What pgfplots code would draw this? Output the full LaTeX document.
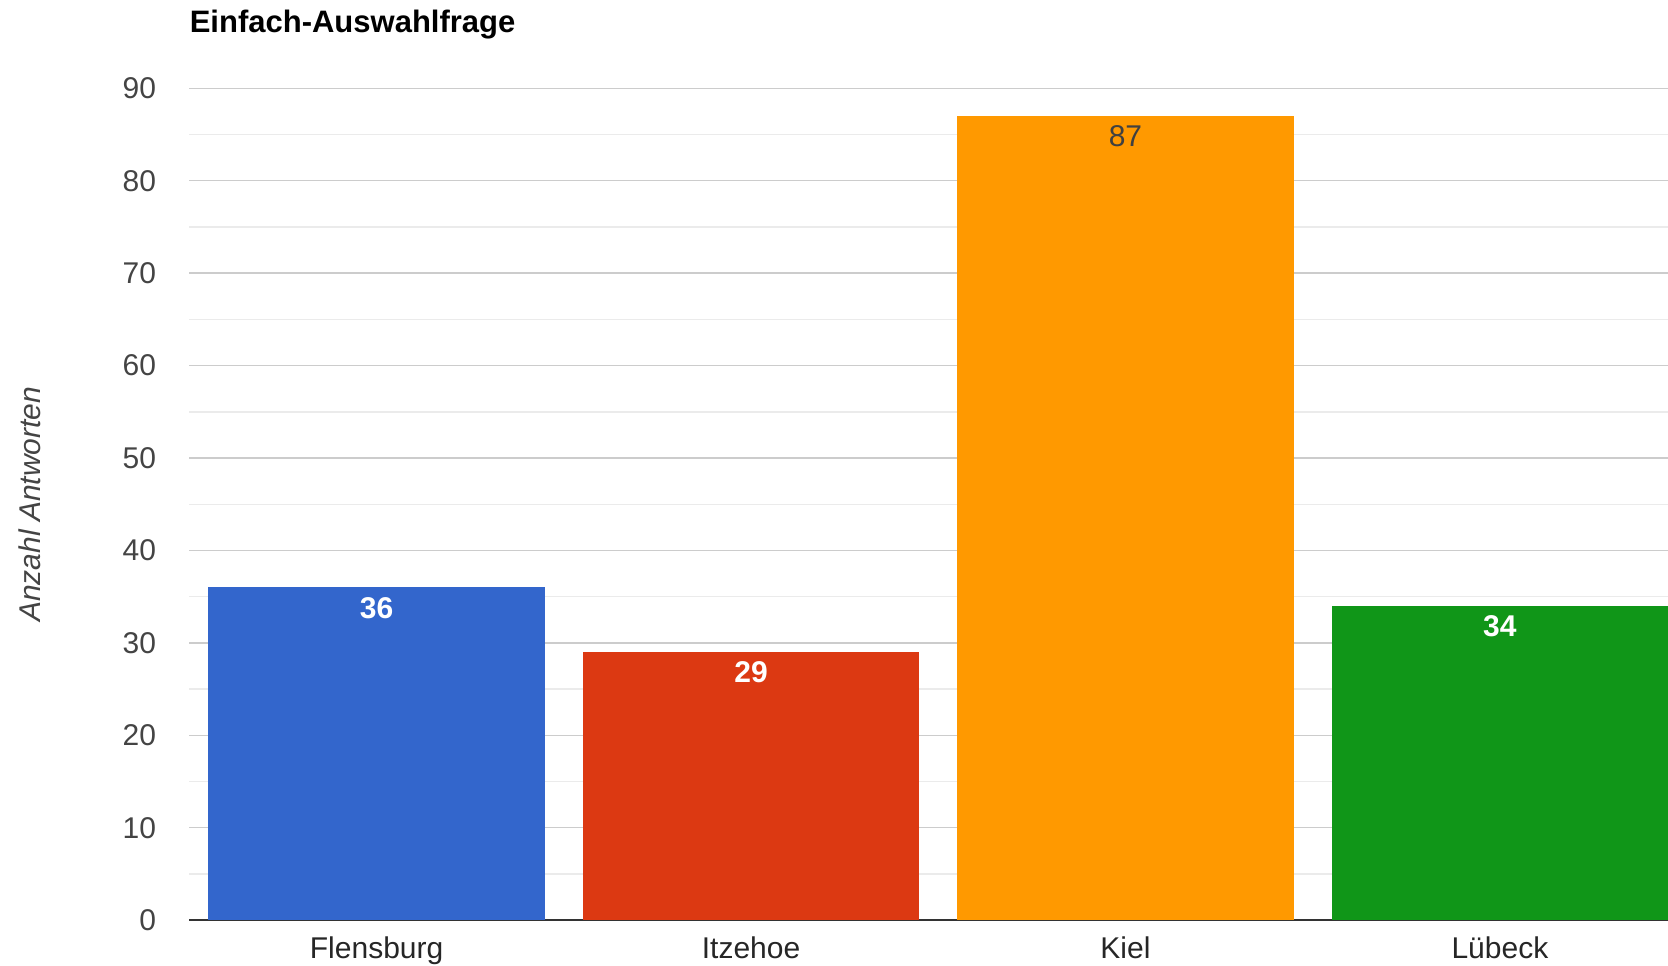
\documentclass[border=0pt]{standalone}
\usepackage{fontspec}
\setmainfont{Liberation Sans}
\usepackage{pgfplots}
\pgfplotsset{compat=1.18}
\definecolor{cblue}{HTML}{3366CC}
\definecolor{cred}{HTML}{DC3912}
\definecolor{corange}{HTML}{FF9900}
\definecolor{cgreen}{HTML}{109618}
\definecolor{majgrid}{HTML}{CCCCCC}
\definecolor{mingrid}{HTML}{EBEBEB}
\definecolor{axisc}{HTML}{333333}
\definecolor{tickc}{HTML}{444444}
\definecolor{darklab}{HTML}{404040}
\begin{document}
\begin{tikzpicture}
\begin{axis}[
  at={(0,0)}, anchor=south west,
  scale only axis, width=739.3pt, height=415.95pt,
  xmin=-0.5, xmax=3.449, ymin=0, ymax=90,
  ybar, bar width=0.898, bar shift=0pt,
  ytick={0,10,...,90}, minor ytick={5,15,...,85},
  ymajorgrids, yminorgrids,
  major grid style={draw=majgrid, line width=0.7pt},
  minor grid style={draw=mingrid, line width=0.7pt},
  axis lines*=left,
  y axis line style={draw=none},
  x axis line style={draw=axisc, line width=1pt},
  tick style={draw=none},
  xtick={0,1,2,3}, xticklabels={Flensburg, Itzehoe, Kiel, L\"ubeck},
  /pgf/number format/assume math mode=true,
  ticklabel style={font=\fontsize{15}{18}\selectfont},
  yticklabel style={anchor=east, inner sep=0pt, xshift=-16.5pt, text=tickc},
  xticklabel style={anchor=base, inner sep=0pt, yshift=-15pt, text=black!85},
  ylabel={\itshape Anzahl Antworten},
  ylabel style={at={(axis description cs:-0.1078,0.5)}, anchor=center, rotate=0, font=\fontsize{15}{18}\selectfont, text=tickc},
  title={\bfseries Einfach-Auswahlfrage},
  title style={at={(axis description cs:0,1)}, anchor=base west, inner sep=0pt, yshift=22pt, font=\fontsize{15.5}{18}\selectfont},
  nodes near coords,
  every node near coord/.append style={anchor=base, inner sep=0pt, yshift=-15.4pt, font=\fontsize{15}{18}\selectfont\bfseries, text=white},
  clip=true,
]
\addplot[fill=cblue, draw=none] coordinates {(0,36)};
\addplot[fill=cred, draw=none] coordinates {(1,29)};
\addplot[fill=corange, draw=none, every node near coord/.append style={text=darklab, font=\fontsize{15}{18}\selectfont}] coordinates {(2,87)};
\addplot[fill=cgreen, draw=none] coordinates {(3,34)};
\end{axis}
\pgfresetboundingbox
\path[use as bounding box] (-94.7pt,-22.4pt) rectangle (739.3pt,460.1pt);
\end{tikzpicture}
\end{document}
